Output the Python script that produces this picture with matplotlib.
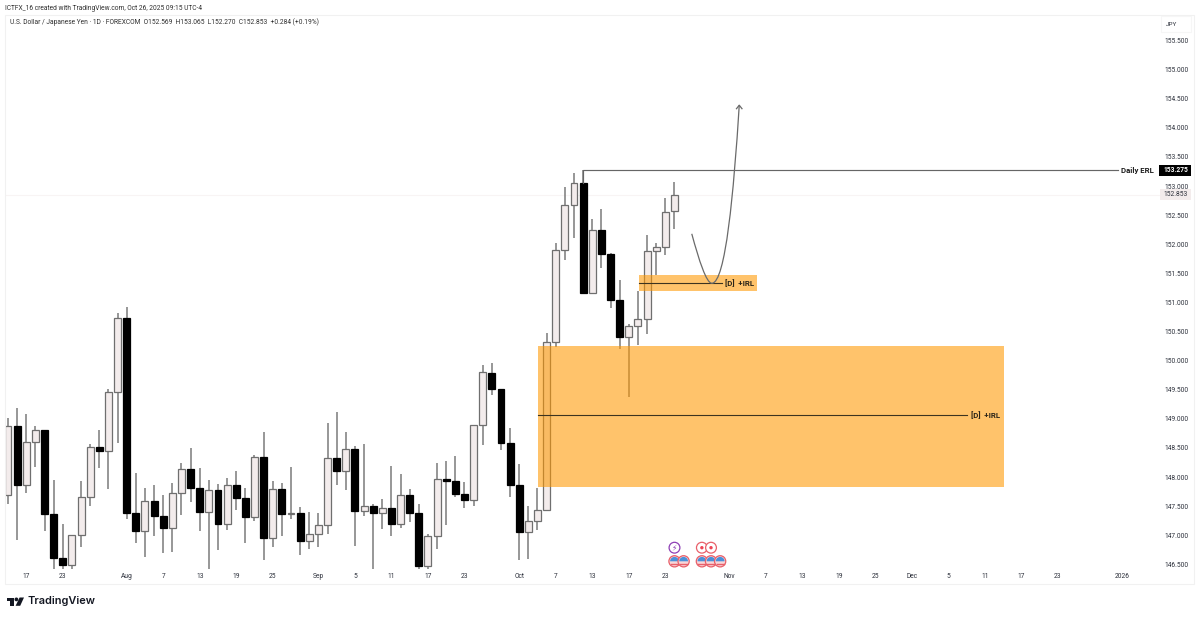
import matplotlib
matplotlib.use('Agg')
import matplotlib.pyplot as plt
from matplotlib.patches import Rectangle, Circle, Polygon, PathPatch, Wedge
from matplotlib.path import Path

plt.rcParams['font.family'] = ['Roboto', 'DejaVu Sans']

# daily USDJPY candles (15 Jul - 24 Oct 2025)
opens = [147.70, 148.87, 147.86, 148.60, 148.80, 147.36, 146.61, 146.49, 147.01, 147.66,
         148.52, 148.45, 149.47, 150.73, 147.38, 147.07, 147.59, 147.33, 147.12, 147.73,
         148.13, 147.82, 147.40, 147.77, 147.19, 147.86, 147.64, 147.31, 148.34, 146.95,
         147.79, 147.36, 147.39, 146.90, 147.03, 147.17, 148.32, 148.10, 148.48, 147.41,
         147.50, 147.38, 147.46, 147.20, 147.69, 147.39, 146.48, 146.98, 147.96, 147.94,
         147.71, 147.61, 148.89, 149.79, 149.51, 148.59, 147.86, 147.05, 147.24, 147.44,
         150.32, 151.91, 152.67, 153.06, 151.17, 152.24, 151.83, 151.05, 150.41, 150.59,
         150.71, 151.89, 151.96, 152.569]
closes = [148.87, 147.86, 148.60, 148.80, 147.36, 146.61, 146.49, 147.01, 147.66, 148.52,
          148.45, 149.47, 150.73, 147.38, 147.07, 147.59, 147.33, 147.12, 147.73, 148.13,
          147.82, 147.40, 147.77, 147.19, 147.86, 147.64, 147.31, 148.34, 146.95, 147.79,
          147.36, 147.39, 146.90, 147.03, 147.17, 148.32, 148.10, 148.48, 147.41, 147.50,
          147.38, 147.46, 147.20, 147.69, 147.39, 146.48, 146.98, 147.96, 147.94, 147.71,
          147.61, 148.89, 149.80, 149.51, 148.59, 147.86, 147.05, 147.24, 147.44, 150.32,
          151.91, 152.67, 153.06, 151.17, 152.24, 151.83, 151.05, 150.41, 150.59, 150.71,
          151.89, 151.96, 152.55, 152.853]
highs = [149.01, 149.18, 149.08, 148.87, 148.80, 147.95, 147.20, 147.01, 147.93, 148.56,
         148.80, 149.52, 150.82, 150.92, 148.07, 147.82, 147.87, 147.70, 147.89, 148.24,
         148.50, 148.16, 147.95, 147.88, 147.98, 148.10, 147.81, 148.38, 148.77, 147.93,
         147.90, 148.17, 147.48, 147.40, 147.38, 148.93, 149.12, 148.77, 148.54, 148.57,
         147.53, 147.63, 148.19, 148.06, 147.79, 147.53, 147.03, 148.25, 148.27, 148.36,
         147.92, 148.89, 149.92, 149.96, 149.51, 148.84, 148.22, 147.51, 147.82, 150.47,
         152.03, 152.99, 153.22, 153.275, 152.43, 152.60, 151.85, 151.39, 150.63, 151.20,
         152.16, 152.03, 152.79, 153.065]
lows = [147.54, 146.91, 147.72, 148.18, 147.08, 146.42, 146.42, 146.42, 146.80, 147.51,
        148.15, 147.80, 148.58, 147.28, 146.86, 146.62, 146.98, 146.69, 146.72, 147.35,
        147.57, 147.08, 146.42, 146.74, 147.09, 147.43, 146.87, 147.25, 146.57, 146.79,
        146.99, 147.28, 146.66, 146.76, 146.79, 147.03, 147.87, 147.78, 146.81, 147.33,
        146.42, 147.10, 146.99, 147.12, 147.22, 146.42, 146.42, 146.76, 147.18, 147.66,
        147.46, 147.50, 148.55, 149.41, 148.46, 147.66, 146.58, 146.59, 147.09, 147.44,
        150.24, 151.73, 152.11, 151.17, 151.17, 151.60, 150.90, 150.20, 149.37, 150.27,
        150.46, 151.48, 151.81, 152.270]

price_ticks = [146.5 + 0.5 * n for n in range(19)]
date_tick_bars = [2, 6, 13, 17, 21, 25, 29, 34, 38, 42, 46, 50, 56, 60, 64, 68, 72,
                  79, 83, 87, 91, 95, 99, 103, 107, 111, 115, 122]
date_tick_labels = ['17', '23', 'Aug', '7', '13', '19', '25', 'Sep', '5', '11', '17', '23',
                    'Oct', '7', '13', '17', '23', 'Nov', '7', '13', '19', '25', 'Dec', '5',
                    '11', '17', '23', '2026']

last_price = 152.853
high_price = 153.275

# [D] +IRL zones: start bar, end bar, top, bottom, mid
big_zone = [58.05, 109.1, 150.25, 147.83, 149.07]
small_zone = [69.1, 82.0, 151.47, 151.20, 151.33]
big_line_end = 105.1
small_line_end = 78.2
erl_start, erl_end = 63, 121.6

# projected path drawn on the chart (bar, price)
path_bars = [74.9, 75.7, 76.5, 77.1, 78.6, 79.5, 80.1]
path_prices = [152.18, 151.72, 151.33, 151.33, 151.33, 152.9, 154.39]

event_bars_top = [73, 76, 77]
event_bars_low = [73, 74, 76, 77, 78]

W, H = 1199, 618
TEXT = '#2b2f3a'
GREY = '#7a7a7a'
SMALL = 4.8

fig = plt.figure(figsize=(W / 100, H / 100), dpi=100, facecolor='white')
ax = fig.add_axes([5 / W, (H - 569) / H, 1156 / W, 554 / H])
ax.set_xlim(-0.33, 126.3)
ax.set_ylim(146.42, 155.94)
for s in ax.spines.values():
    s.set_visible(False)

bars = list(range(len(opens)))
ax.vlines(bars, lows, highs, color=GREY, lw=1.1, zorder=2)
for b, o, c in zip(bars, opens, closes):
    up = c >= o
    ax.bar(b, abs(c - o), bottom=min(o, c), width=0.76,
           color='#f3ecec' if up else 'black',
           edgecolor='#6f6f6f' if up else 'black', linewidth=0.9, zorder=3)

ax.axhline(last_price, color='#f8f4f4', lw=0.8, zorder=1)

# zones sit over the candles
for z in (big_zone, small_zone):
    ax.add_patch(Rectangle((z[0], z[3]), z[1] - z[0], z[2] - z[3], facecolor='#ff9800',
                           edgecolor='none', alpha=0.58, zorder=4))
ax.plot([big_zone[0], big_line_end], [big_zone[4]] * 2, color='#3c3320', lw=0.8, zorder=5)
ax.plot([small_zone[0], small_line_end], [small_zone[4]] * 2, color='#3c3320', lw=0.8, zorder=5)
ax.text(big_line_end + 0.4, big_zone[4], '[D]  +IRL', fontsize=5.6, fontweight='bold',
        color='#2a2418', va='center', ha='left', zorder=6)
ax.text(small_line_end + 0.3, small_zone[4], '[D]  +IRL', fontsize=5.6, fontweight='bold',
        color='#2a2418', va='center', ha='left', zorder=6)

# Daily ERL line
ax.plot([erl_start, erl_start, erl_end], [closes[62], high_price, high_price],
        color='#666666', lw=0.85, zorder=5)
ax.text(erl_end + 0.3, high_price, 'Daily ERL', fontsize=5.6, fontweight='bold',
        color='#1c1c1c', va='center', ha='left', zorder=6)

# projected path + arrow head
verts = list(zip(path_bars, path_prices))
codes = [Path.MOVETO, Path.CURVE4, Path.CURVE4, Path.CURVE4, Path.CURVE4, Path.CURVE4, Path.CURVE4]
ax.add_patch(PathPatch(Path(verts, codes), facecolor='none', edgecolor='#6a6a6a', lw=0.9, zorder=6))
tip = (path_bars[-1], path_prices[-1])
ax.plot([tip[0] - 0.3, tip[0], tip[0] + 0.3], [tip[1] - 0.06, tip[1], tip[1] - 0.06],
        color='#6a6a6a', lw=0.9, zorder=6)

# axes ticks
ax.yaxis.tick_right()
ax.set_yticks(price_ticks)
ax.set_yticklabels(['%.3f' % p for p in price_ticks], fontsize=SMALL, color=TEXT)
ax.set_xticks(date_tick_bars)
ax.set_xticklabels(date_tick_labels, fontsize=SMALL, color=TEXT)
ax.tick_params(axis='y', length=0, pad=2.2)
ax.tick_params(axis='x', length=0, pad=3)

# overlay in pixel coords for frame, tags, header, logo
ov = fig.add_axes([0, 0, 1, 1], facecolor='none')
ov.set_xlim(0, W)
ov.set_ylim(H, 0)
ov.axis('off')
FRAME = '#f1f1f1'
ov.add_patch(Rectangle((5, 15), 1188.5, 568.5, fill=False, edgecolor=FRAME, lw=0.8))
ov.add_patch(Rectangle((1161, 16), 30, 16, fill=False, edgecolor='#f6f6f6', lw=0.8))
ov.text(1171.5, 24.5, 'JPY', fontsize=4.6, color=TEXT, ha='center', va='center')

ov.text(5, 8, 'ICTFX_16 created with TradingView.com, Oct 26, 2025 09:15 UTC-4',
        fontsize=4.75, color='#2f2f2f', va='center', ha='left')
ov.text(10, 22.5, 'U.S. Dollar / Japanese Yen · 1D · FOREXCOM  O152.569  H153.065  L152.270  C152.853  +0.284 (+0.19%)',
        fontsize=4.75, color='#2f2f2f', va='center', ha='left')

# price tags
def y_px(p):
    return 40.5 + (155.5 - p) * 58.2

ov.add_patch(Rectangle((1160, y_px(last_price) - 5.5), 31, 11, facecolor='#f3ecec', edgecolor='none'))
ov.text(1175.5, y_px(last_price), '%.3f' % last_price, fontsize=SMALL, color=TEXT, ha='center', va='center')
ov.add_patch(Rectangle((1159, y_px(high_price) - 5), 32, 11, facecolor='black', edgecolor='none', zorder=3))
ov.text(1175.5, y_px(high_price) + 0.5, '%.3f' % high_price, fontsize=SMALL, color='white', ha='center',
        va='center', fontweight='bold', zorder=4)

# event markers under the candles
def x_px(b):
    return 8 + 9.13 * b

for b in event_bars_top:
    cx = x_px(b)
    if b == 73:
        ov.add_patch(Circle((cx, 547.7), 5.4, facecolor='white', edgecolor='#8e3fb5', lw=0.9))
        ov.text(cx, 547.7, '⚡', fontsize=5.5, color='#8e3fb5', ha='center', va='center',
                family=['DejaVu Sans'])
    else:
        ov.add_patch(Circle((cx, 547.7), 5.4, facecolor='white', edgecolor='#e8606a', lw=0.9))
        ov.add_patch(Circle((cx, 547.7), 1.7, facecolor='#ee4455', edgecolor='none'))
for b in event_bars_low:
    cx = x_px(b)
    ov.add_patch(Circle((cx, 561.3), 5.6, facecolor='#f9d6d8', edgecolor='#e8606a', lw=0.9))
    ov.add_patch(Wedge((cx, 561.3), 4.4, 180, 360, facecolor='#4a90d9', edgecolor='none'))
    ov.plot([cx - 3.6, cx + 3.6], [563.8, 563.8], color='#e8606a', lw=1.0)

# TradingView logo
ov.add_patch(Polygon([(6.7, 597.5), (14.2, 597.5), (14.2, 605.8), (10.4, 605.8), (10.4, 601.2), (6.7, 601.2)],
                     facecolor='#131722', edgecolor='none'))
ov.add_patch(Circle((16.4, 599.4), 1.9, facecolor='#131722', edgecolor='none'))
ov.add_patch(Polygon([(19.6, 597.5), (24, 597.5), (20.2, 605.8), (15.6, 605.8)],
                     facecolor='#131722', edgecolor='none'))
ov.text(27.5, 601.5, 'TradingView', fontsize=7.9, fontweight='semibold', color='#131722',
        family=['Inter', 'DejaVu Sans'], va='center', ha='left')

fig.savefig('out.png', dpi=100, facecolor='white')
